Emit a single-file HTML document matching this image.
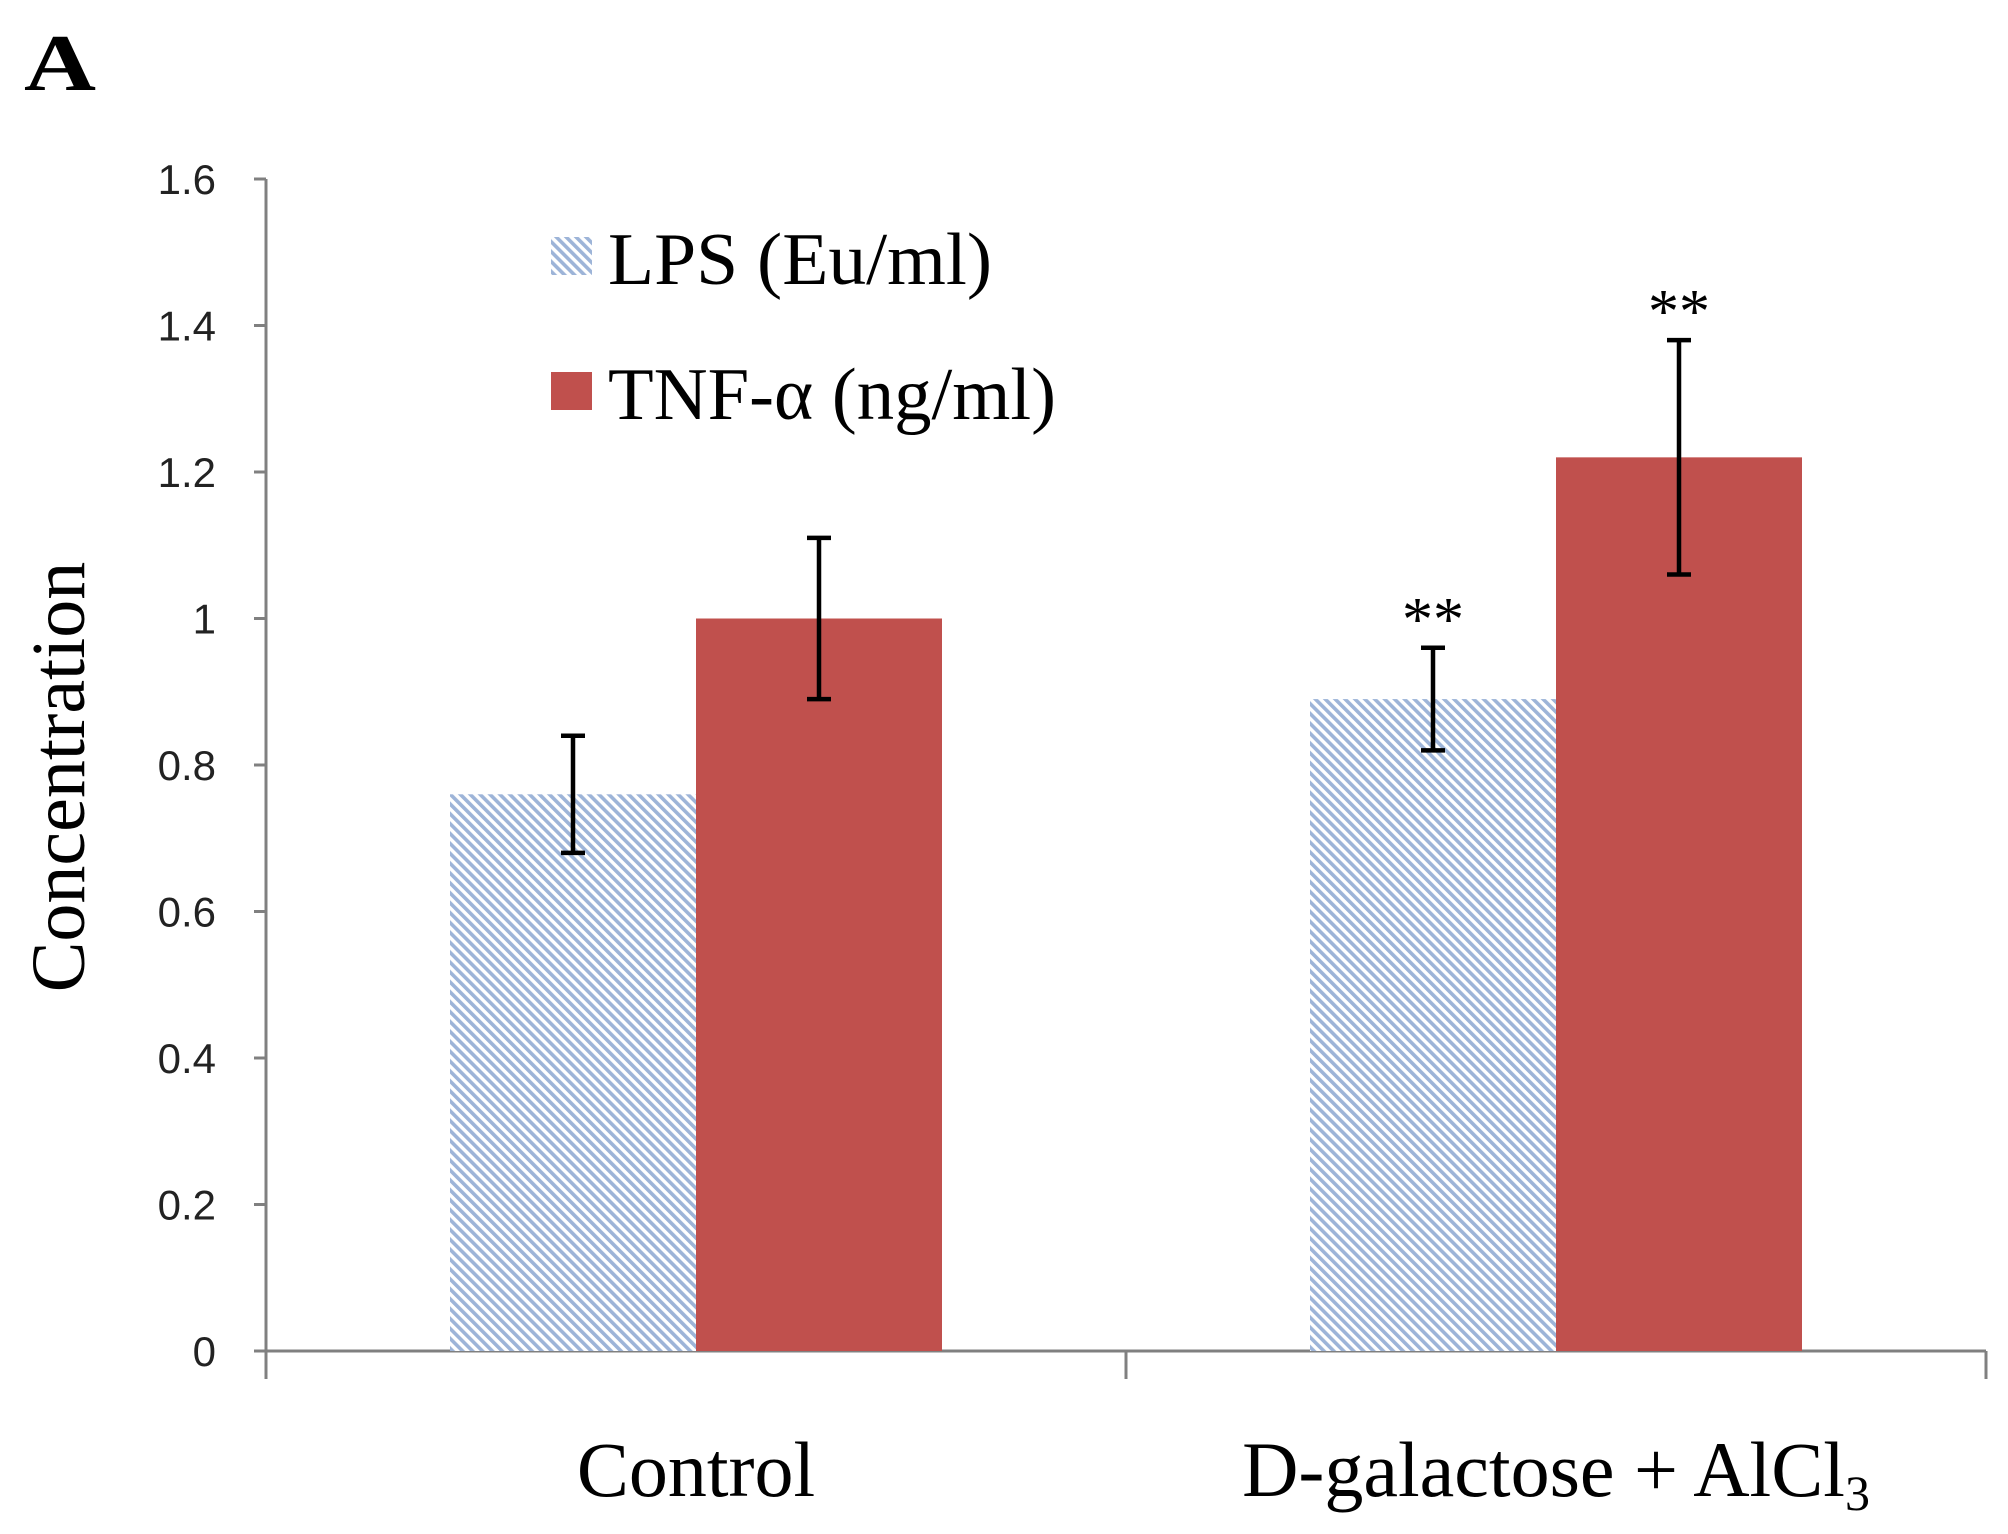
<!DOCTYPE html>
<html><head><meta charset="utf-8"><style>
html,body{margin:0;padding:0;background:#fff;}
svg{display:block;}
</style></head><body>
<svg id="chart" width="2008" height="1534" viewBox="0 0 2008 1534" xmlns="http://www.w3.org/2000/svg">
<defs>
<pattern id="hatch" patternUnits="userSpaceOnUse" width="7" height="7" patternTransform="rotate(-45)">
<rect width="7" height="7" fill="#ffffff"/>
<rect width="3.6" height="7" fill="#9db4d8"/>
</pattern>
</defs>
<text x="24" y="90" font-family="Liberation Serif, serif" font-weight="bold" font-size="80" textLength="72" lengthAdjust="spacingAndGlyphs">A</text>
<g id="axes"></g>
<g id="bars"></g>
<text transform="translate(84,777) rotate(-90)" text-anchor="middle" font-family="Liberation Serif, serif" font-size="76">Concentration</text>
<g>
<rect x="551" y="237" width="41" height="38" fill="url(#hatch)"/>
<text x="608" y="284" font-family="Liberation Serif, serif" font-size="74" textLength="384" lengthAdjust="spacingAndGlyphs">LPS (Eu/ml)</text>
<rect x="551" y="372" width="41" height="38" fill="#c0504d"/>
<text x="608" y="419" font-family="Liberation Serif, serif" font-size="74" textLength="448" lengthAdjust="spacingAndGlyphs">TNF-α (ng/ml)</text>
</g>
</svg>
<script>
const categories = ["Control", "D-galactose + AlCl3"];
const lpsValues = [0.76, 0.89];
const lpsErrors = [0.08, 0.07];
const tnfValues = [1.0, 1.22];
const tnfErrors = [0.11, 0.16];
const significance = [["", ""], ["**", "**"]];
const yTicks = [0, 0.2, 0.4, 0.6, 0.8, 1, 1.2, 1.4, 1.6];
const yTickLabels = ["0", "0.2", "0.4", "0.6", "0.8", "1", "1.2", "1.4", "1.6"];

const NS = "http://www.w3.org/2000/svg";
const x0 = 266, x1 = 1986, yBottom = 1351, yTop = 179, yMax = 1.6;
function y(v){ return yBottom - v / yMax * (yBottom - yTop); }
const catW = (x1 - x0) / categories.length;
function catX(i){ return x0 + catW * (i + 0.5); }
const barW = 246;
function mk(tag, attrs, parent){ const e = document.createElementNS(NS, tag); for (const k in attrs) e.setAttribute(k, attrs[k]); parent.appendChild(e); return e; }
const axes = document.getElementById('axes');
const bars = document.getElementById('bars');

const yAxis = mk('line', {x1:x0, y1:yTop, x2:x0, y2:yBottom, stroke:'#808080', 'stroke-width':3}, axes);


const xAxis = mk('line', {x1:x0, y1:yBottom, x2:x1, y2:yBottom, stroke:'#808080', 'stroke-width':3}, axes);


yTicks.forEach((t, i) => {
  const tk = mk('line', {x1:x0 - 12, y1:y(t), x2:x0, y2:y(t), stroke:'#808080', 'stroke-width':3}, axes);
  
  
  const lb = mk('text', {x:216, y:y(t) + 15, 'text-anchor':'end', 'font-family':'Liberation Sans, sans-serif', 'font-size':42, fill:'#222'}, axes);
  lb.textContent = yTickLabels[i];
  
  
});
for (let i = 0; i <= categories.length; i++) {
  const xx = x0 + catW * i;
  const tk = mk('line', {x1:xx, y1:yBottom, x2:xx, y2:yBottom + 28, stroke:'#808080', 'stroke-width':3}, axes);
  
  
}
categories.forEach((c, i) => {
  const lb = mk('text', {x:catX(i), y:1496, 'text-anchor':'middle', 'font-family':'Liberation Serif, serif', 'font-size':78}, axes);
  if (c.endsWith('3')) {
    lb.textContent = c.slice(0, -1);
    const s = mk('tspan', {'font-size':50, dy:14}, lb);
    s.textContent = '3';
  } else lb.textContent = c;
  
  
});

function drawBar(cx, v, err, fill, name, star){
  const r = mk('rect', {x:cx, y:y(v), width:barW, height:yBottom - y(v), fill:fill}, bars);
  
  
  const mx = cx + barW / 2;
  const g = mk('g', {stroke:'#000', 'stroke-width':4.5}, bars);
  
  
  mk('line', {x1:mx, y1:y(v + err), x2:mx, y2:y(v - err)}, g);
  mk('line', {x1:mx - 12, y1:y(v + err), x2:mx + 12, y2:y(v + err)}, g);
  mk('line', {x1:mx - 12, y1:y(v - err), x2:mx + 12, y2:y(v - err)}, g);
  if (star) {
    const t = mk('text', {x:mx, y:y(v + err) - 8, 'text-anchor':'middle', 'font-family':'Liberation Serif, serif', 'font-size':62}, bars);
    t.textContent = star;
    
    
  }
}
categories.forEach((c, i) => {
  const cx = catX(i);
  drawBar(cx - barW, lpsValues[i], lpsErrors[i], 'url(#hatch)', 'bar-lps-' + i, significance[i][0]);
  drawBar(cx, tnfValues[i], tnfErrors[i], '#c0504d', 'bar-tnf-' + i, significance[i][1]);
});
</script>
</body></html>
